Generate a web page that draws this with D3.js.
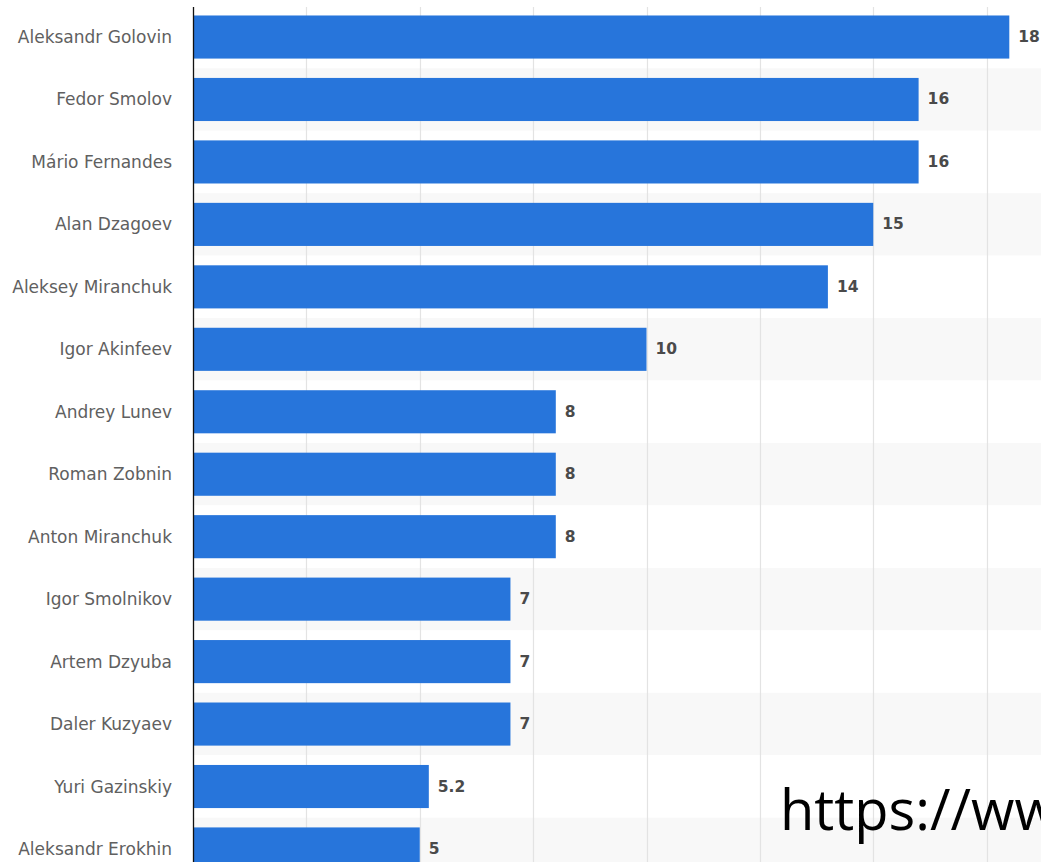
<!DOCTYPE html>
<html>
<head>
<meta charset="utf-8">
<script src="https://cdn.jsdelivr.net/npm/d3@7"></script>
<style>
  html, body { margin: 0; padding: 0; background: #ffffff; overflow: hidden; }
  svg { display: block; }
</style>
</head>
<body>
<svg id="chart" width="1041" height="862"></svg>
<script>
const players = ["Aleksandr Golovin", "Fedor Smolov", "Mário Fernandes", "Alan Dzagoev", "Aleksey Miranchuk", "Igor Akinfeev", "Andrey Lunev", "Roman Zobnin", "Anton Miranchuk", "Igor Smolnikov", "Artem Dzyuba", "Daler Kuzyaev", "Yuri Gazinskiy", "Aleksandr Erokhin"];
const values = [18, 16, 16, 15, 14, 10, 8, 8, 8, 7, 7, 7, 5.2, 5];
const gridTicks = [2.5, 5, 7.5, 10, 12.5, 15, 17.5, 20];
const watermark = ["https://www.statista.com"];

const svg = d3.select("#chart");
const W = 1041, H = 862;

const x = d3.scaleLinear().domain([0, 20]).range([193, 1100]);
const y = d3.scaleBand().domain(players).range([5.8, 880.2]).paddingInner(0.31).paddingOuter(0.155);
const step = y.step();

// alternating row bands (centered on each row)
svg.append("g").selectAll("rect").data(players).join("rect")
  .attr("x", x(0)).attr("width", W - x(0))
  .attr("y", d => y(d) + y.bandwidth() / 2 - step / 2)
  .attr("height", step)
  .attr("fill", (d, i) => i % 2 === 1 ? "#f8f8f8" : "#ffffff");

// grid lines
svg.append("g").selectAll("line").data(gridTicks).join("line")
  .attr("x1", d => Math.round(x(d)) + 0.5).attr("x2", d => Math.round(x(d)) + 0.5)
  .attr("y1", 7).attr("y2", H)
  .attr("stroke", "#e3e3e3").attr("stroke-width", 1.2);

// bars
svg.append("g").selectAll("rect").data(values).join("rect")
  .attr("x", x(0))
  .attr("y", (d, i) => y(players[i]))
  .attr("width", d => x(d) - x(0))
  .attr("height", y.bandwidth())
  .attr("fill", "#2775db");

// y axis line
svg.append("line")
  .attr("x1", x(0) + 0.5).attr("x2", x(0) + 0.5)
  .attr("y1", 7).attr("y2", H)
  .attr("stroke", "#111").attr("stroke-width", 1.3);

// category labels
svg.append("g").selectAll("text").data(players).join("text")
  .attr("x", 172)
  .attr("y", d => y(d) + y.bandwidth() / 2)
  .attr("text-anchor", "end")
  .attr("dominant-baseline", "central")
  .attr("font-family", "DejaVu Sans, sans-serif")
  .attr("font-size", 17)
  .attr("fill", "#606060")
  .text(d => d);

// value labels
svg.append("g").selectAll("text").data(values).join("text")
  .attr("x", d => x(d) + 9)
  .attr("y", (d, i) => y(players[i]) + y.bandwidth() / 2)
  .attr("dominant-baseline", "central")
  .attr("font-family", "DejaVu Sans, sans-serif")
  .attr("font-size", 15.5)
  .attr("font-weight", "bold")
  .attr("fill", "#4a4a4a")
  .text(d => d);

// watermark text (clipped at right edge, as in the reference)
svg.append("text")
  .attr("x", 780).attr("y", 830)
  .attr("font-family", "Open Sans, sans-serif")
  .attr("font-size", 56)
  .attr("fill", "#000")
  .text(watermark[0]);
</script>
</body>
</html>
